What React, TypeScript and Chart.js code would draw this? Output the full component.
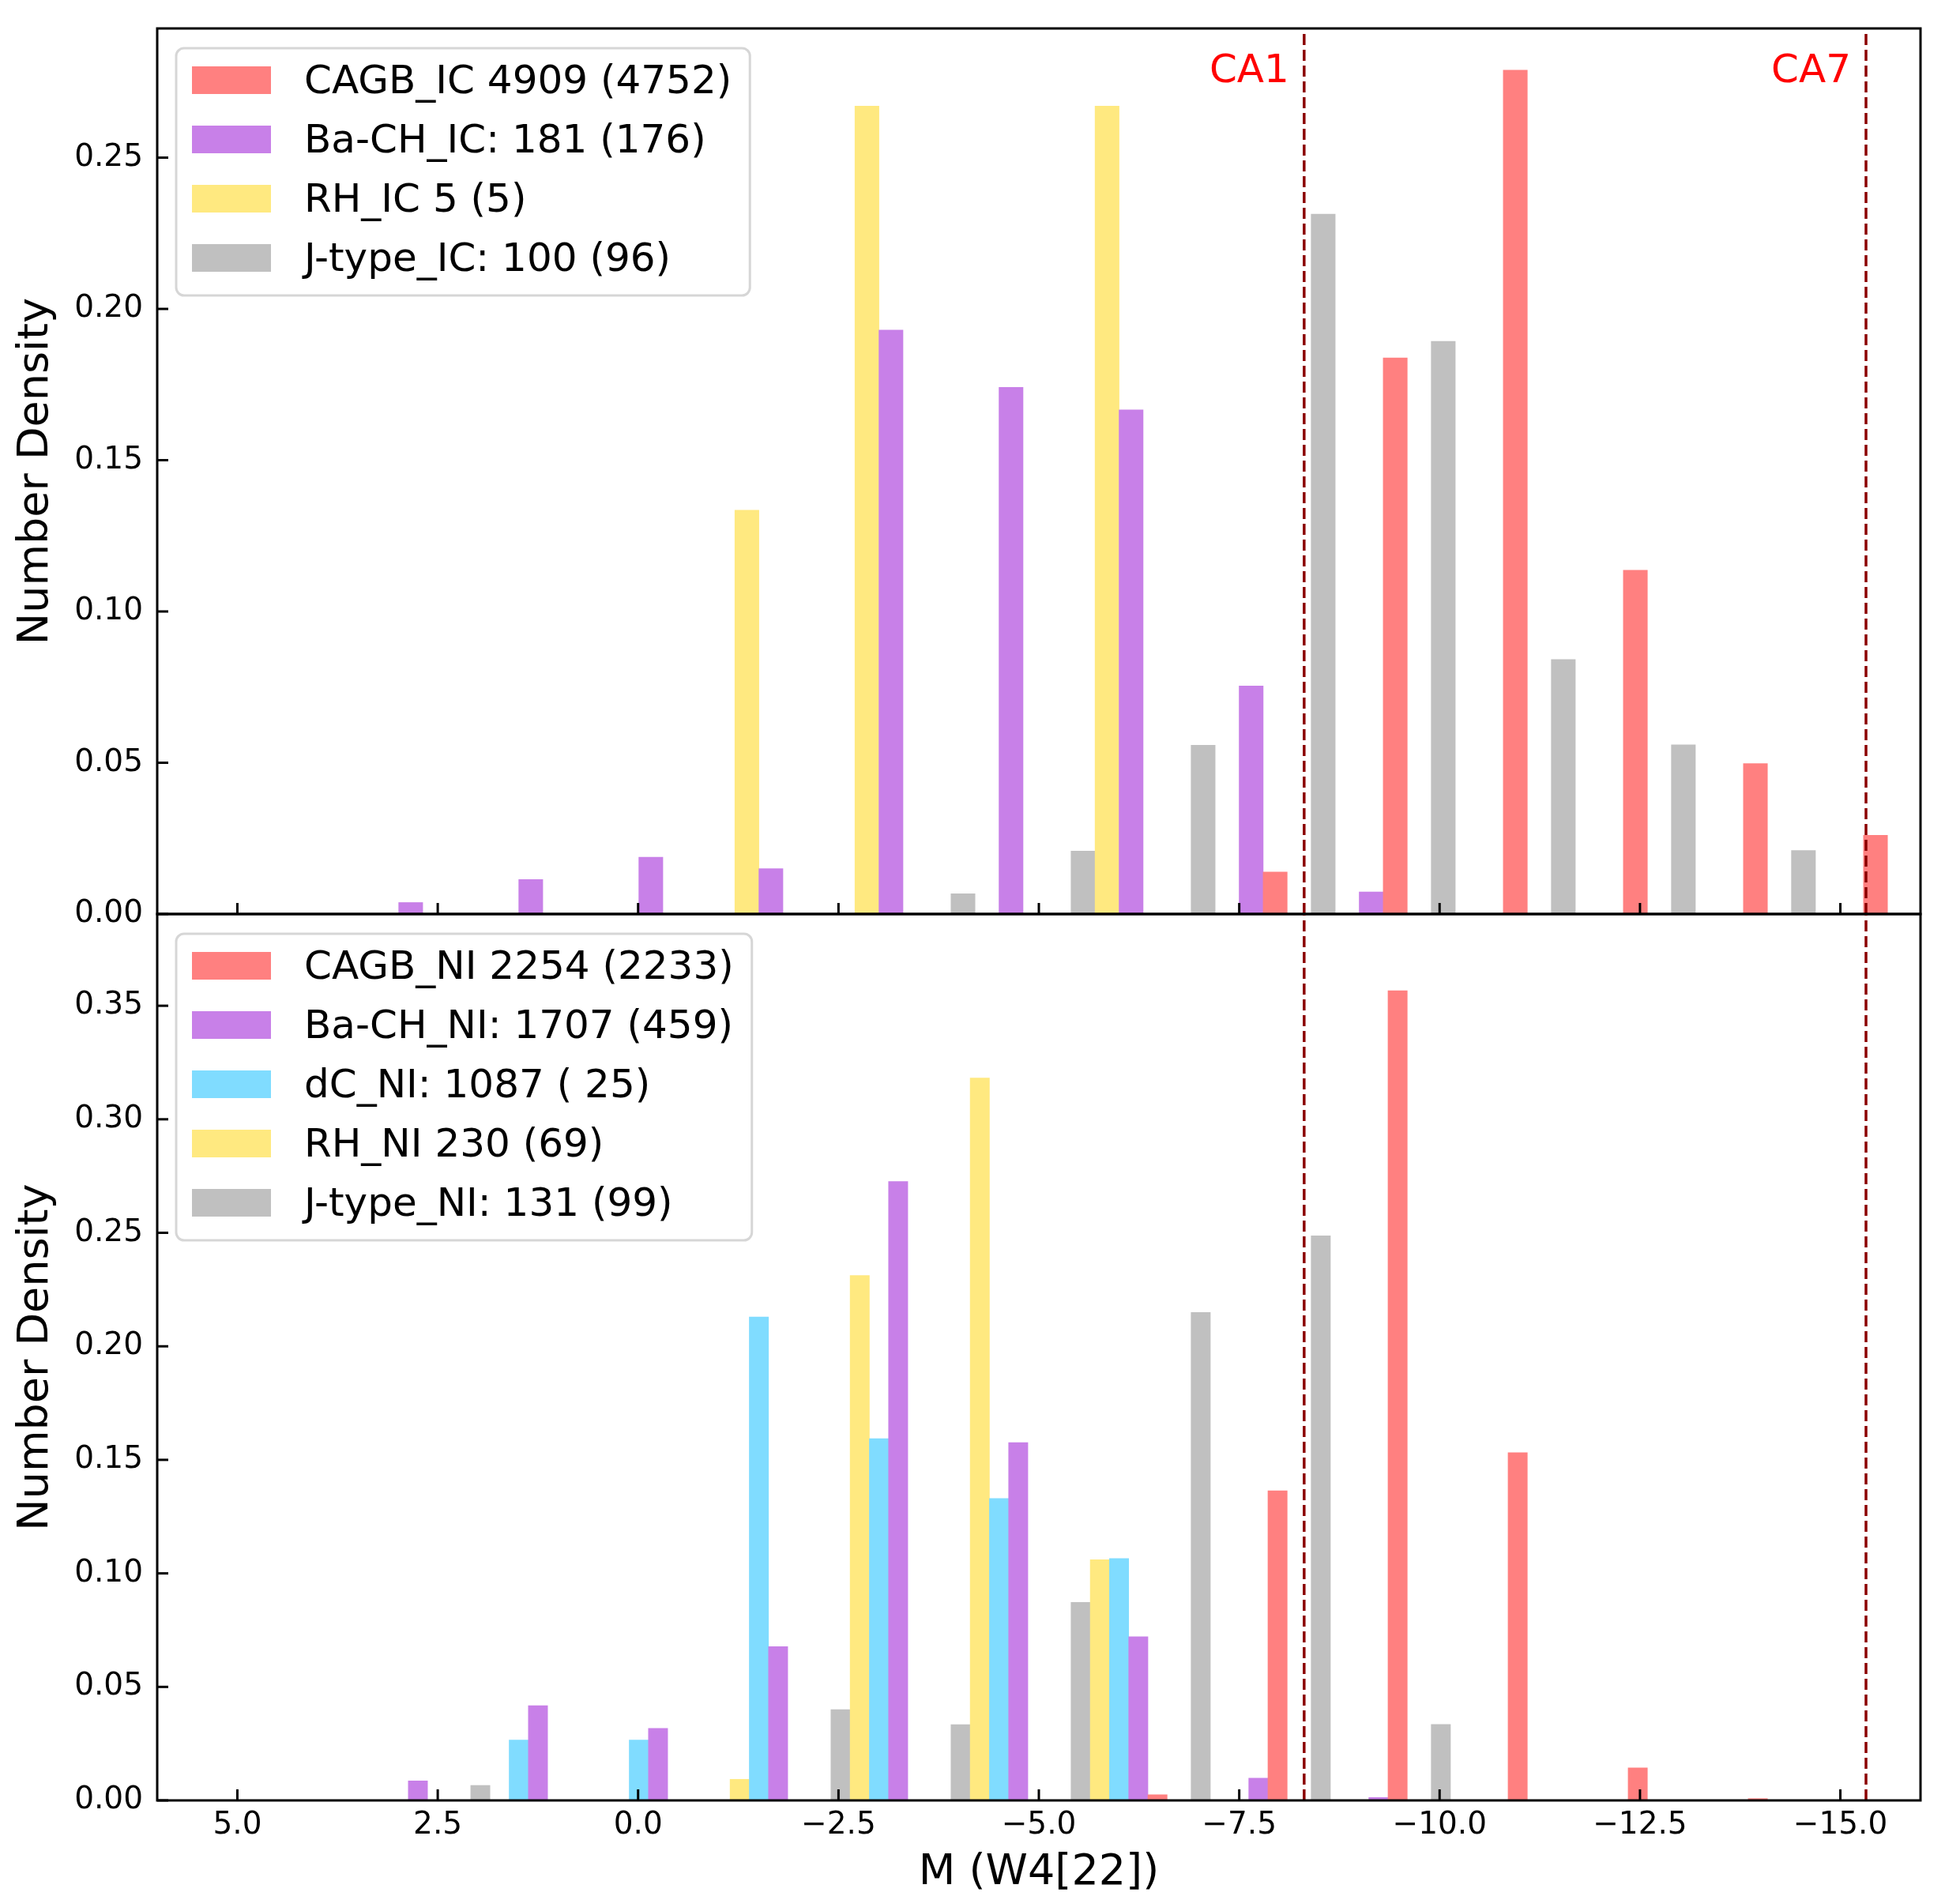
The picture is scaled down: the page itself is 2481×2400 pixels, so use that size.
import React, { useEffect, useRef } from "react";
import { Chart, registerables } from "chart.js";

Chart.register(...registerables);

// ---------------- data ----------------
// Shared histogram bin edges (upper -> lower)
const BIN_EDGES = [3.736, 2.238, 0.74, -0.758, -2.256, -3.754, -5.252, -6.75, -8.248, -9.746, -11.244, -12.742, -14.24, -15.738];

// Top panel (IC)
const TOP_LABELS = ["CAGB_IC 4909 (4752)", "Ba-CH_IC: 181 (176)", "RH_IC 5 (5)", "J-type_IC: 100 (96)"];
const CAGB_IC = [0, 0, 0, 0, 0, 0, 0, 0.0139, 0.1838, 0.2789, 0.1136, 0.0497, 0.026];
const BACH_IC = [0.0038, 0.0114, 0.0188, 0.015, 0.193, 0.1741, 0.1666, 0.0754, 0.0073, 0, 0, 0, 0];
const RH_IC = [0, 0, 0, 0.1335, 0.267, 0, 0.267, 0, 0, 0, 0, 0, 0];
const JTYPE_IC = [0, 0, 0, 0, 0, 0.0067, 0.0208, 0.0558, 0.2313, 0.1893, 0.0841, 0.0559, 0.021];

// Bottom panel (NI)
const BOTTOM_LABELS = ["CAGB_NI 2254 (2233)", "Ba-CH_NI: 1707 (459)", "dC_NI: 1087 ( 25)", "RH_NI 230 (69)", "J-type_NI: 131 (99)"];
const CAGB_NI = [0, 0, 0, 0, 0, 0, 0.0025, 0.1364, 0.3566, 0.1532, 0.0143, 0.0008, 0];
const BACH_NI = [0.0086, 0.0417, 0.0317, 0.0677, 0.2726, 0.1576, 0.0721, 0.0098, 0.0013, 0, 0, 0, 0];
const DC_NI = [0, 0.0266, 0.0266, 0.2129, 0.1593, 0.133, 0.1065, 0, 0, 0, 0, 0, 0];
const RH_NI = [0, 0, 0, 0.0093, 0.2312, 0.3182, 0.106, 0, 0, 0, 0, 0, 0];
const JTYPE_NI = [0, 0.0066, 0, 0, 0.04, 0.0334, 0.0872, 0.2149, 0.2487, 0.0335, 0, 0, 0];

// Axes
const X_MIN = -16;
const X_MAX = 6;
const X_TICK_STEP = 2.5;
const TOP_Y_MAX = 0.2927;
const BOTTOM_Y_MAX = 0.3904;
const Y_TICK_STEP = 0.05;
const X_TITLE = "M (W4[22])";
const Y_TITLE = "Number Density";

// Reference lines
const CA_VALUES = [-8.31, -15.32];
const CA_LABELS = ["CA1", "CA7"];

// ---------------- styles ----------------
const FONT = "DejaVu Sans";
const RED = "#ff8080";
const PURPLE = "#c880e8";
const YELLOW = "#ffe980";
const CYAN = "#80dcff";
const GREY = "#c0c0c0";

const W = 2481;
const TOP_H = 1190;
const BOT_TOP = 1150;
const BOT_H = 2400 - BOT_TOP;

function binCenters(i: number, n: number): number[] {
  const out: number[] = [];
  for (let k = 0; k < BIN_EDGES.length - 1; k++) {
    const hi = BIN_EDGES[k];
    const lo = BIN_EDGES[k + 1];
    const bw = hi - lo;
    out.push(lo + bw * (0.1 + (i + 0.5) * (0.8 / n)));
  }
  return out;
}

function makeDatasets(labels: string[], series: number[][], colors: string[]) {
  const n = series.length;
  return series.map((vals, i) => {
    const xs = binCenters(i, n);
    return {
      label: labels[i],
      data: vals.map((v, k) => ({ x: xs[k], y: v })),
      backgroundColor: colors[i],
      borderWidth: 0,
      grouped: false,
      barPercentage: 1,
      categoryPercentage: 1,
    };
  });
}

const fmtX = (v: any) => Number(v).toFixed(1).replace("-", "\u2212");
const fmtY = (v: any) => Number(v).toFixed(2);

function decorPlugin(showCA: boolean) {
  return {
    id: "decor",
    afterDatasetsDraw(chart: any) {
      const { ctx, chartArea: a, scales } = chart;
      ctx.save();
      ctx.beginPath();
      ctx.rect(a.left, a.top, a.right - a.left, a.bottom - a.top);
      ctx.clip();
      ctx.strokeStyle = "#8b0000";
      ctx.lineWidth = 3.5;
      ctx.setLineDash([14, 6]);
      for (const v of CA_VALUES) {
        const px = scales.x.getPixelForValue(v);
        ctx.beginPath();
        ctx.moveTo(px, a.bottom);
        ctx.lineTo(px, a.top);
        ctx.stroke();
      }
      ctx.restore();
    },
    afterDraw(chart: any) {
      const { ctx, chartArea: a, scales } = chart;
      ctx.save();
      // spines
      ctx.strokeStyle = "#000";
      ctx.lineWidth = 3;
      ctx.setLineDash([]);
      ctx.strokeRect(a.left, a.top, a.right - a.left, a.bottom - a.top);
      // inward ticks
      const tl = 14;
      scales.x.ticks.forEach((_t: any, i: number) => {
        const px = scales.x.getPixelForTick(i);
        ctx.beginPath();
        ctx.moveTo(px, a.bottom);
        ctx.lineTo(px, a.bottom - tl);
        ctx.stroke();
      });
      scales.y.ticks.forEach((_t: any, i: number) => {
        const py = scales.y.getPixelForTick(i);
        ctx.beginPath();
        ctx.moveTo(a.left, py);
        ctx.lineTo(a.left + tl, py);
        ctx.stroke();
      });

      // CA labels
      if (showCA) {
        ctx.font = `50px "${FONT}"`;
        ctx.fillStyle = "#ff0000";
        ctx.textAlign = "right";
        ctx.textBaseline = "alphabetic";
        CA_VALUES.forEach((v, i) => {
          const px = scales.x.getPixelForValue(v);
          ctx.fillText(CA_LABELS[i], px - 19, a.top + 68);
        });
      }

      // legend
      const ds = chart.data.datasets;
      ctx.font = `50px "${FONT}"`;
      let maxW = 0;
      ds.forEach((d: any) => {
        maxW = Math.max(maxW, ctx.measureText(d.label).width);
      });
      const boxL = a.left + 24;
      const boxT = a.top + 25;
      const textOff = 162;
      const boxW = textOff + maxW + 23;
      const boxH = ds.length * 75 + 13;
      ctx.beginPath();
      if ((ctx as any).roundRect) {
        (ctx as any).roundRect(boxL, boxT, boxW, boxH, 10);
      } else {
        ctx.rect(boxL, boxT, boxW, boxH);
      }
      ctx.fillStyle = "rgba(255,255,255,0.8)";
      ctx.fill();
      ctx.strokeStyle = "rgba(204,204,204,0.8)";
      ctx.lineWidth = 3;
      ctx.stroke();
      ds.forEach((d: any, i: number) => {
        const y0 = boxT + 23 + i * 75;
        ctx.fillStyle = d.backgroundColor;
        ctx.fillRect(boxL + 20, y0, 100, 35);
        ctx.fillStyle = "#000";
        ctx.textAlign = "left";
        ctx.textBaseline = "alphabetic";
        ctx.fillText(d.label, boxL + textOff, y0 + 34);
      });
      ctx.restore();
    },
  };
}

function makeConfig(opts: {
  datasets: any[];
  yMax: number;
  padTop: number;
  xAxisHeight: number;
  showXLabels: boolean;
  showCA: boolean;
}) {
  return {
    type: "bar" as const,
    data: { datasets: opts.datasets },
    plugins: [decorPlugin(opts.showCA)],
    options: {
      animation: false,
      responsive: false,
      devicePixelRatio: 1,
      events: [],
      layout: { padding: { left: 0, right: W - 2431, top: opts.padTop, bottom: 0 } },
      plugins: {
        legend: { display: false },
        tooltip: { enabled: false },
      },
      scales: {
        x: {
          type: "linear",
          reverse: true,
          offset: false,
          min: X_MIN,
          max: X_MAX,
          grid: { display: false, drawTicks: false },
          border: { display: false },
          ticks: {
            display: opts.showXLabels,
            stepSize: X_TICK_STEP,
            includeBounds: false,
            callback: fmtX,
            font: { family: FONT, size: 39, lineHeight: 1.2 },
            color: "#000",
            padding: 8,
            maxRotation: 0,
            autoSkip: false,
          },
          title: {
            display: opts.showXLabels,
            text: X_TITLE,
            color: "#000",
            font: { family: FONT, size: 54, lineHeight: 1 },
            padding: { top: 0, bottom: 2 },
          },
          afterFit(scale: any) {
            scale.height = opts.xAxisHeight;
            scale.paddingLeft = 0;
            scale.paddingRight = 0;
          },
        },
        y: {
          type: "linear",
          min: 0,
          max: opts.yMax,
          grid: { display: false, drawTicks: false },
          border: { display: false },
          ticks: {
            stepSize: Y_TICK_STEP,
            includeBounds: false,
            callback: fmtY,
            font: { family: FONT, size: 39, lineHeight: 1.2 },
            color: "#000",
            padding: 18,
            autoSkip: false,
          },
          title: {
            display: true,
            text: Y_TITLE,
            color: "#000",
            font: { family: FONT, size: 54, lineHeight: 1 },
            padding: { top: 19, bottom: 0 },
          },
          afterFit(scale: any) {
            scale.width = 199;
            scale.paddingTop = 0;
            scale.paddingBottom = 0;
          },
        },
      },
    },
  };
}

export default function App() {
  const topRef = useRef<HTMLCanvasElement>(null);
  const botRef = useRef<HTMLCanvasElement>(null);

  useEffect(() => {
    const topDatasets = makeDatasets(TOP_LABELS, [CAGB_IC, BACH_IC, RH_IC, JTYPE_IC], [RED, PURPLE, YELLOW, GREY]);
    const botDatasets = makeDatasets(
      BOTTOM_LABELS,
      [CAGB_NI, BACH_NI, DC_NI, RH_NI, JTYPE_NI],
      [RED, PURPLE, CYAN, YELLOW, GREY]
    );
    const c1 = new Chart(
      topRef.current as HTMLCanvasElement,
      makeConfig({
        datasets: topDatasets,
        yMax: TOP_Y_MAX,
        padTop: 36,
        xAxisHeight: TOP_H - 1157,
        showXLabels: false,
        showCA: true,
      }) as any
    );
    const c2 = new Chart(
      botRef.current as HTMLCanvasElement,
      makeConfig({
        datasets: botDatasets,
        yMax: BOTTOM_Y_MAX,
        padTop: 1157 - BOT_TOP,
        xAxisHeight: BOT_H - (2279 - BOT_TOP),
        showXLabels: true,
        showCA: false,
      }) as any
    );
    return () => {
      c1.destroy();
      c2.destroy();
    };
  }, []);

  return (
    <div style={{ position: "absolute", left: 0, top: 0, width: W, height: 2400, background: "#fff" }}>
      <canvas
        ref={topRef}
        width={W}
        height={TOP_H}
        style={{ position: "absolute", left: 0, top: 0, width: W, height: TOP_H }}
      />
      <canvas
        ref={botRef}
        width={W}
        height={BOT_H}
        style={{ position: "absolute", left: 0, top: BOT_TOP, width: W, height: BOT_H }}
      />
    </div>
  );
}
